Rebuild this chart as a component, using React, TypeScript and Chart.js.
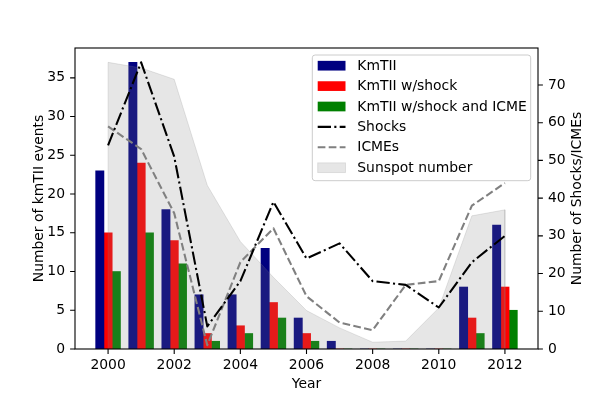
import React, { useEffect, useRef } from 'react';
import { Chart, registerables } from 'chart.js';

Chart.register(...registerables);

// ---- data ----
const years = [2000, 2001, 2002, 2003, 2004, 2005, 2006, 2007, 2008, 2009, 2010, 2011, 2012];
const kmtii = [23, 37, 18, 7, 7, 13, 4, 1, 0, 0, 0, 8, 16];
const kmtiiShock = [15, 24, 14, 2, 3, 6, 2, 0, 0, 0, 0, 4, 8];
const kmtiiShockIcme = [10, 15, 11, 1, 2, 4, 1, 0, 0, 0, 0, 2, 5];
const shocks = [54, 76, 51, 6, 18, 39, 24, 28, 18, 17, 11, 23, 30];
const icmes = [59, 53, 36, 1, 23, 32, 14, 7, 5, 17, 18, 38, 44];
const sunspot = [76, 74.5, 71.5, 43.4, 28.5, 19, 10.2, 5.6, 1.8, 2.1, 10.9, 35.3, 36.9];

const xTicks = [2000, 2002, 2004, 2006, 2008, 2010, 2012];
const yLeftTicks = [0, 5, 10, 15, 20, 25, 30, 35];
const yRightTicks = [0, 10, 20, 30, 40, 50, 60, 70];

const seriesLabels = ['KmTII', 'KmTII w/shock', 'KmTII w/shock and ICME', 'Shocks', 'ICMEs', 'Sunspot number'];
const xTitle = 'Year';
const yLeftTitle = 'Number of kmTII events';
const yRightTitle = 'Number of Shocks/ICMEs';

const FONT = 'DejaVu Sans';
const FS = 13.9;
const LW = 2.08;
const TICK = 4.9;
const DASHDOT = [13.3, 3.3, 2.1, 3.3];
const DASHED = [7.7, 3.3];
const BAR_COLORS = ['#000080', '#ff0000', '#008000'];
const FILL = 'rgba(128,128,128,0.2)';
const GRAY = '#808080';

export default function App() {
  const ref = useRef<HTMLCanvasElement>(null);

  useEffect(() => {
    const canvas = ref.current;
    if (!canvas) return;
    const pts = (arr: number[]) => years.map((x, i) => ({ x, y: arr[i] }));
    const sunPts = [
      { x: years[0], y: 0 },
      ...pts(sunspot),
      { x: years[years.length - 1], y: 0 },
    ];

    const decor = {
      id: 'decor',
      afterDatasetsDraw(chart: any) {
        const { ctx, chartArea: a, scales } = chart;
        ctx.save();
        ctx.strokeStyle = '#000';
        ctx.lineWidth = 1.1;
        ctx.strokeRect(a.left, a.top, a.right - a.left, a.bottom - a.top);
        ctx.beginPath();
        xTicks.forEach((v) => {
          const px = scales.x.getPixelForValue(v);
          ctx.moveTo(px, a.bottom);
          ctx.lineTo(px, a.bottom + TICK);
        });
        yLeftTicks.forEach((v) => {
          const py = scales.y.getPixelForValue(v);
          ctx.moveTo(a.left - TICK, py);
          ctx.lineTo(a.left, py);
        });
        yRightTicks.forEach((v) => {
          const py = scales.y2.getPixelForValue(v);
          ctx.moveTo(a.right, py);
          ctx.lineTo(a.right + TICK, py);
        });
        ctx.stroke();
        ctx.restore();
      },
      afterDraw(chart: any) {
        const { ctx, chartArea: a } = chart;
        ctx.save();
        ctx.fillStyle = '#000';
        ctx.font = `${FS}px "${FONT}"`;
        ctx.textBaseline = 'alphabetic';
        ctx.textAlign = 'center';
        const cy = (a.top + a.bottom) / 2;
        ctx.fillText(xTitle, (a.left + a.right) / 2, 388);
        ctx.save();
        ctx.translate(42.5, cy);
        ctx.rotate(-Math.PI / 2);
        ctx.fillText(yLeftTitle, 0, 0);
        ctx.restore();
        ctx.save();
        ctx.translate(580.6, cy);
        ctx.rotate(-Math.PI / 2);
        ctx.fillText(yRightTitle, 0, 0);
        ctx.restore();

        // legend
        const lx = a.right - 7.3;
        const bx = 312.3, by = a.top + 7, bw = lx - bx, bh = 125.7;
        ctx.beginPath();
        (ctx as any).roundRect(bx, by, bw, bh, 2.8);
        ctx.fillStyle = 'rgba(255,255,255,0.8)';
        ctx.fill();
        ctx.strokeStyle = '#cccccc';
        ctx.lineWidth = 1;
        ctx.stroke();

        const hx0 = bx + 5.4, hw = 27.8, tx = bx + 45;
        const row0 = by + 10.7, dy = 20.4;
        ctx.textAlign = 'left';
        ctx.textBaseline = 'middle';
        seriesLabels.forEach((lab, i) => {
          const ry = row0 + i * dy;
          if (i < 3) {
            ctx.fillStyle = BAR_COLORS[i];
            ctx.fillRect(hx0, ry - 4.85, hw, 9.7);
          } else if (i === 3 || i === 4) {
            ctx.save();
            ctx.strokeStyle = i === 3 ? '#000' : GRAY;
            ctx.lineWidth = LW;
            ctx.setLineDash(i === 3 ? DASHDOT : DASHED);
            ctx.beginPath();
            ctx.moveTo(hx0, ry);
            ctx.lineTo(hx0 + hw, ry);
            ctx.stroke();
            ctx.restore();
          } else {
            ctx.fillStyle = FILL;
            ctx.fillRect(hx0, ry - 4.85, hw, 9.7);
            ctx.strokeStyle = FILL;
            ctx.lineWidth = 1;
            ctx.strokeRect(hx0, ry - 4.85, hw, 9.7);
          }
          ctx.fillStyle = '#000';
          ctx.fillText(lab, tx, ry + 0.5);
        });
        ctx.restore();
      },
    };

    const barDs = (data: number[], i: number) => ({
      type: 'bar' as const,
      label: seriesLabels[i],
      data: pts(data),
      backgroundColor: BAR_COLORS[i],
      borderWidth: 0,
      barThickness: 8.27,
      yAxisID: 'y',
      order: 3,
    });

    const tickFont = { family: FONT, size: FS };
    const noGrid = { display: false, drawTicks: false, tickLength: 0 };

    const chart = new Chart(canvas, {
      type: 'bar',
      data: {
        datasets: [
          barDs(kmtii, 0),
          barDs(kmtiiShock, 1),
          barDs(kmtiiShockIcme, 2),
          {
            type: 'line',
            label: seriesLabels[3],
            data: pts(shocks),
            borderColor: '#000',
            borderWidth: LW,
            borderDash: DASHDOT,
            borderJoinStyle: 'round',
            pointRadius: 0,
            tension: 0,
            fill: false,
            yAxisID: 'y2',
            order: 0,
          } as any,
          {
            type: 'line',
            label: seriesLabels[4],
            data: pts(icmes),
            borderColor: GRAY,
            borderWidth: LW,
            borderDash: DASHED,
            borderJoinStyle: 'round',
            pointRadius: 0,
            tension: 0,
            fill: false,
            yAxisID: 'y2',
            order: 1,
          } as any,
          {
            type: 'line',
            label: seriesLabels[5],
            data: sunPts,
            borderColor: FILL,
            backgroundColor: FILL,
            borderWidth: 1,
            pointRadius: 0,
            tension: 0,
            fill: 'origin',
            yAxisID: 'y2',
            order: 2,
          } as any,
        ],
      },
      options: {
        responsive: false,
        animation: false,
        devicePixelRatio: 1,
        layout: { padding: { top: 48, left: 0, right: 0, bottom: 0 } },
        plugins: { legend: { display: false }, tooltip: { enabled: false } },
        scales: {
          x: {
            type: 'linear',
            min: 1999,
            max: 2013,
            offset: false,
            grid: noGrid,
            border: { display: false },
            ticks: {
              font: tickFont,
              color: '#000',
              padding: 8,
              maxRotation: 0,
              autoSkip: false,
              callback: (v: any) => String(v),
            },
            afterBuildTicks: (s: any) => {
              s.ticks = xTicks.map((v) => ({ value: v }));
            },
            afterFit: (s: any) => {
              s.height = 50;
            },
          },
          y: {
            type: 'linear',
            position: 'left',
            min: 0,
            max: 38.85,
            grid: noGrid,
            border: { display: false },
            ticks: {
              font: tickFont,
              color: '#000',
              padding: 10,
              autoSkip: false,
              callback: (v: any) => String(v),
            },
            afterBuildTicks: (s: any) => {
              s.ticks = yLeftTicks.map((v) => ({ value: v }));
            },
            afterFit: (s: any) => {
              s.width = 75;
            },
          },
          y2: {
            type: 'linear',
            position: 'right',
            min: 0,
            max: 79.8,
            grid: noGrid,
            border: { display: false },
            ticks: {
              font: tickFont,
              color: '#000',
              padding: 10,
              autoSkip: false,
              callback: (v: any) => String(v),
            },
            afterBuildTicks: (s: any) => {
              s.ticks = yRightTicks.map((v) => ({ value: v }));
            },
            afterFit: (s: any) => {
              s.width = 60;
            },
          },
        },
      },
      plugins: [decor],
    });

    return () => chart.destroy();
  }, []);

  return (
    <div style={{ position: 'absolute', left: 0, top: 0, width: 598, height: 399, background: '#fff' }}>
      <canvas ref={ref} width={598} height={399} />
    </div>
  );
}
